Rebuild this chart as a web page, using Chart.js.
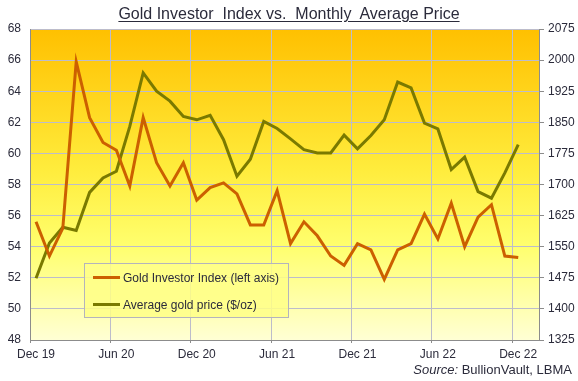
<!DOCTYPE html>
<html>
<head>
<meta charset="utf-8">
<script src="https://cdn.jsdelivr.net/npm/chart.js@4/dist/chart.umd.min.js"></script>
<style>
  html, body { margin: 0; padding: 0; background: #ffffff; }
  #wrap { position: relative; width: 578px; height: 381px; overflow: hidden; font-family: "Liberation Sans", Arial, sans-serif; color: #2b2b3b; }
  #c { position: absolute; left: 0; top: 0; }
  #title { position: absolute; left: 0; width: 578px; top: 5px; text-align: center; font-size: 16px; line-height: 18px; white-space: pre; }
  #title span { text-decoration: underline; text-underline-offset: 2px; }
  #legend { position: absolute; left: 84px; top: 263px; width: 203px; height: 53px; background: rgba(255,255,135,0.85); border: 1px solid #b4b4bc; }
  .li { position: absolute; left: 8px; height: 16px; font-size: 12px; line-height: 16px; white-space: nowrap; }
  .li i { display: inline-block; width: 27px; height: 3px; vertical-align: middle; margin-right: 3px; position: relative; top: -1px; }
  #source { position: absolute; right: 6px; top: 362px; font-size: 13px; line-height: 15px; white-space: nowrap; }
</style>
</head>
<body>
<div id="wrap">
  <canvas id="c" width="578" height="381"></canvas>
  <div id="title"><span>Gold Investor  Index vs.  Monthly  Average Price</span></div>
  <div id="legend"></div>
  <div id="source"><i>Source:</i> BullionVault, LBMA</div>
</div>
<script>
// Month index 0 = Dec 2019 ... 36 = Dec 2022
const months = ["Dec 19","Jan 20","Feb 20","Mar 20","Apr 20","May 20","Jun 20","Jul 20","Aug 20","Sep 20","Oct 20","Nov 20",
  "Dec 20","Jan 21","Feb 21","Mar 21","Apr 21","May 21","Jun 21","Jul 21","Aug 21","Sep 21","Oct 21","Nov 21",
  "Dec 21","Jan 22","Feb 22","Mar 22","Apr 22","May 22","Jun 22","Jul 22","Aug 22","Sep 22","Oct 22","Nov 22","Dec 22"];
const xTickLabels = ["Dec 19","Jun 20","Dec 20","Jun 21","Dec 21","Jun 22","Dec 22"];
const leftTicks = { min: 48, max: 68, step: 2 };
const rightTicks = { min: 1325, max: 2075, step: 75 };

const seriesNames = ["Gold Investor Index (left axis)", "Average gold price ($/oz)"];
const gii = [55.6,53.4,55.2,65.9,62.3,60.7,60.2,57.9,62.3,59.4,57.9,59.4,
  57.0,57.8,58.1,57.4,55.4,55.4,57.6,54.2,55.6,54.7,53.4,52.8,
  54.2,53.8,51.9,53.8,54.2,56.1,54.5,56.8,54.0,55.9,56.7,53.4,53.3];
const goldPrice = [1474,1559,1597,1589,1681,1716,1732,1840,1969,1925,1901,1864,
  1856,1867,1808,1720,1761,1852,1835,1810,1784,1776,1776,1819,
  1786,1818,1856,1947,1933,1848,1834,1736,1766,1683,1667,1728,1796];
const seriesColors = ["#cc6000", "#7a7a00"];

const monthOffset = 0.45;
const toPts = arr => arr.map((v, i) => ({ x: i + monthOffset, y: v }));

// HTML legend built from series names
const lg = document.getElementById('legend');
seriesNames.forEach((n, k) => {
  const d = document.createElement('div');
  d.className = 'li';
  d.style.top = (k === 0 ? 6 : 33) + 'px';
  d.innerHTML = '<i style="background:' + seriesColors[k] + '"></i>';
  d.appendChild(document.createTextNode(n));
  lg.appendChild(d);
});

const bgPlugin = {
  id: 'bg',
  beforeDraw(chart) {
    const { ctx, chartArea: a } = chart;
    const g = ctx.createLinearGradient(0, a.top, 0, a.bottom);
    g.addColorStop(0, '#ffc000');
    g.addColorStop(0.45, '#ffec3c');
    g.addColorStop(0.7, '#ffff6e');
    g.addColorStop(1, '#ffffd4');
    ctx.save();
    ctx.fillStyle = g;
    ctx.fillRect(a.left, a.top, a.right - a.left, a.bottom - a.top);
    ctx.restore();
  }
};

const tickFont = { family: '"Liberation Sans", Arial, sans-serif', size: 12 };
const tickColor = '#2b2b3b';
const gridColor = '#bcbccb';
const axisColor = '#8c8c8c';

new Chart(document.getElementById('c'), {
  type: 'line',
  data: {
    datasets: [
      { label: seriesNames[0], data: toPts(gii), yAxisID: 'y', borderColor: seriesColors[0], borderWidth: 3, pointRadius: 0, tension: 0, fill: false },
      { label: seriesNames[1], data: toPts(goldPrice), yAxisID: 'y1', borderColor: seriesColors[1], borderWidth: 3, pointRadius: 0, tension: 0, fill: false }
    ]
  },
  options: {
    responsive: false,
    animation: false,
    events: [],
    layout: { padding: { top: 29, left: 0, right: 0, bottom: 0 } },
    plugins: { legend: { display: false }, title: { display: false }, tooltip: { enabled: false } },
    scales: {
      x: {
        type: 'linear', min: 0, max: 38,
        afterFit(s) { s.height = 41; },
        ticks: { stepSize: 6, includeBounds: false, autoSkip: false, maxRotation: 0, labelOffset: 6, padding: 4,
          font: tickFont, color: tickColor,
          callback: v => (v % 6 === 0 && xTickLabels[v / 6] !== undefined) ? xTickLabels[v / 6] : '' },
        grid: { color: gridColor, tickColor: axisColor, tickLength: 3, lineWidth: 1 },
        border: { color: axisColor, width: 1 }
      },
      y: {
        position: 'left', min: leftTicks.min, max: leftTicks.max,
        afterFit(s) { s.width = 30; },
        ticks: { stepSize: leftTicks.step, padding: 9, font: tickFont, color: tickColor, callback: v => String(v) },
        grid: { color: gridColor, drawTicks: false, lineWidth: 1 },
        border: { color: axisColor, width: 1 }
      },
      y1: {
        position: 'right', min: rightTicks.min, max: rightTicks.max,
        afterFit(s) { s.width = 39; },
        ticks: { stepSize: rightTicks.step, padding: 4, font: tickFont, color: tickColor, callback: v => String(v) },
        grid: { drawOnChartArea: false, tickColor: axisColor, tickLength: 5 },
        border: { color: axisColor, width: 1 }
      }
    }
  },
  plugins: [bgPlugin]
});
</script>
</body>
</html>
